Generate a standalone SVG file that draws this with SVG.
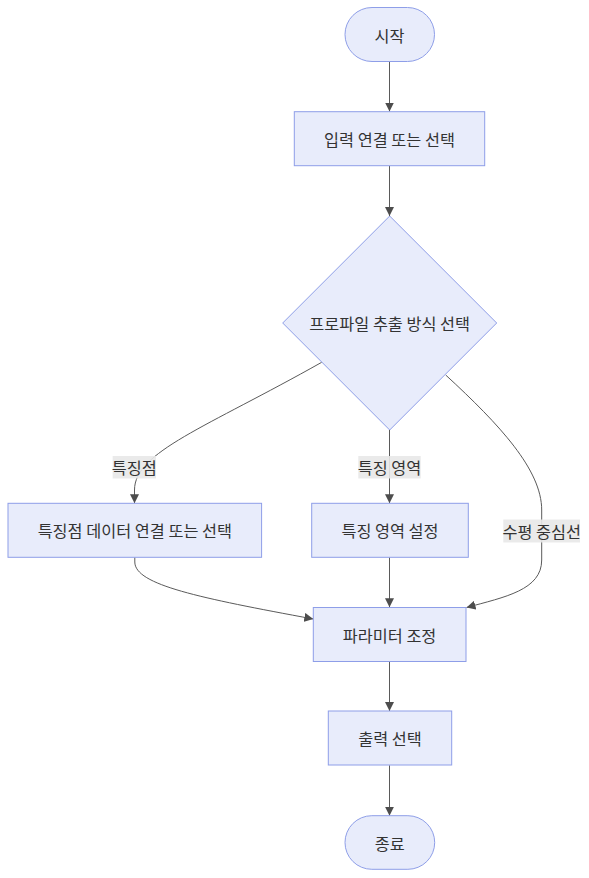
<svg xmlns="http://www.w3.org/2000/svg" width="589" height="878" viewBox="0 0 589 878">
<style>
.node{fill:#E8ECFB;stroke:#8E9EE8;stroke-width:1}
.t{font-family:"Noto Sans CJK KR","Liberation Sans",sans-serif;font-size:16.3px;fill:#333;text-anchor:middle;dominant-baseline:central}
.e{fill:none;stroke:#5a5a5a;stroke-width:1}
.lb{fill:#e8e8e8;opacity:0.9}
</style>
<defs>
<marker id="ah" viewBox="0 0 10 10" refX="10" refY="5" markerWidth="9" markerHeight="9" markerUnits="userSpaceOnUse" orient="auto">
<path d="M0,0 L10,5 L0,10 z" fill="#4d4d4d"/>
</marker>
</defs>
<rect width="589" height="878" fill="#ffffff"/>
<g id="connectors">
<path class="e" d="M389.5,61.5 L389.5,111.5" marker-end="url(#ah)"/>
<path class="e" d="M389.5,165.7 L389.5,216" marker-end="url(#ah)"/>
<path class="e" d="M321.7,362.3 C205,428 134.5,452 134.5,490 L134.5,503.3" marker-end="url(#ah)"/>
<path class="e" d="M389.5,430 L389.5,503.3" marker-end="url(#ah)"/>
<path class="e" d="M445.7,375 C500,425 541.7,470 541.7,510 L541.7,560 C541.7,590 505,597 466.5,607.5" marker-end="url(#ah)"/>
<path class="e" d="M134.8,557.3 L134.8,562 C134.8,585 200,598 313.3,619" marker-end="url(#ah)"/>
<path class="e" d="M389.5,557.3 L389.5,607.3" marker-end="url(#ah)"/>
<path class="e" d="M389.5,661.7 L389.5,711" marker-end="url(#ah)"/>
<path class="e" d="M389.5,765.3 L389.5,815.7" marker-end="url(#ah)"/>
<g id="edge-labels">
<rect class="lb" x="112.7" y="456" width="43.3" height="22.5"/>
<text class="t" x="134.3" y="467">특징점</text>
<rect class="lb" x="358.3" y="456" width="62.4" height="22.5"/>
<text class="t" x="389.5" y="467">특징 영역</text>
<rect class="lb" x="503.3" y="519.5" width="76.7" height="23"/>
<text class="t" x="541.7" y="531">수평 중심선</text>
</g>
</g>
<g id="start">
<rect class="node" x="345" y="7.5" width="89.5" height="54" rx="27" ry="27"/>
<text class="t" x="389.5" y="34.5">시작</text>
</g>
<g id="input">
<rect class="node" x="294.3" y="111.7" width="190.4" height="54"/>
<text class="t" x="389.5" y="138.7">입력 연결 또는 선택</text>
</g>
<g id="decision">
<polygon class="node" points="389.7,216 496.7,323 389.7,430 282.7,323"/>
<text class="t" x="389.7" y="323">프로파일 추출 방식 선택</text>
</g>
<g id="feature-points">
<rect class="node" x="8" y="503.3" width="253.6" height="54"/>
<text class="t" x="134.8" y="530.3">특징점 데이터 연결 또는 선택</text>
</g>
<g id="feature-area">
<rect class="node" x="311.7" y="503.3" width="156.6" height="54"/>
<text class="t" x="390" y="530.3">특징 영역 설정</text>
</g>
<g id="params">
<rect class="node" x="313.3" y="607.5" width="152.7" height="54"/>
<text class="t" x="389.6" y="634.5">파라미터 조정</text>
</g>
<g id="output">
<rect class="node" x="328.3" y="711" width="123.4" height="54"/>
<text class="t" x="390" y="738">출력 선택</text>
</g>
<g id="end">
<rect class="node" x="345" y="815.7" width="89.7" height="53.6" rx="26.8" ry="26.8"/>
<text class="t" x="389.8" y="842.5">종료</text>
</g>
</svg>
